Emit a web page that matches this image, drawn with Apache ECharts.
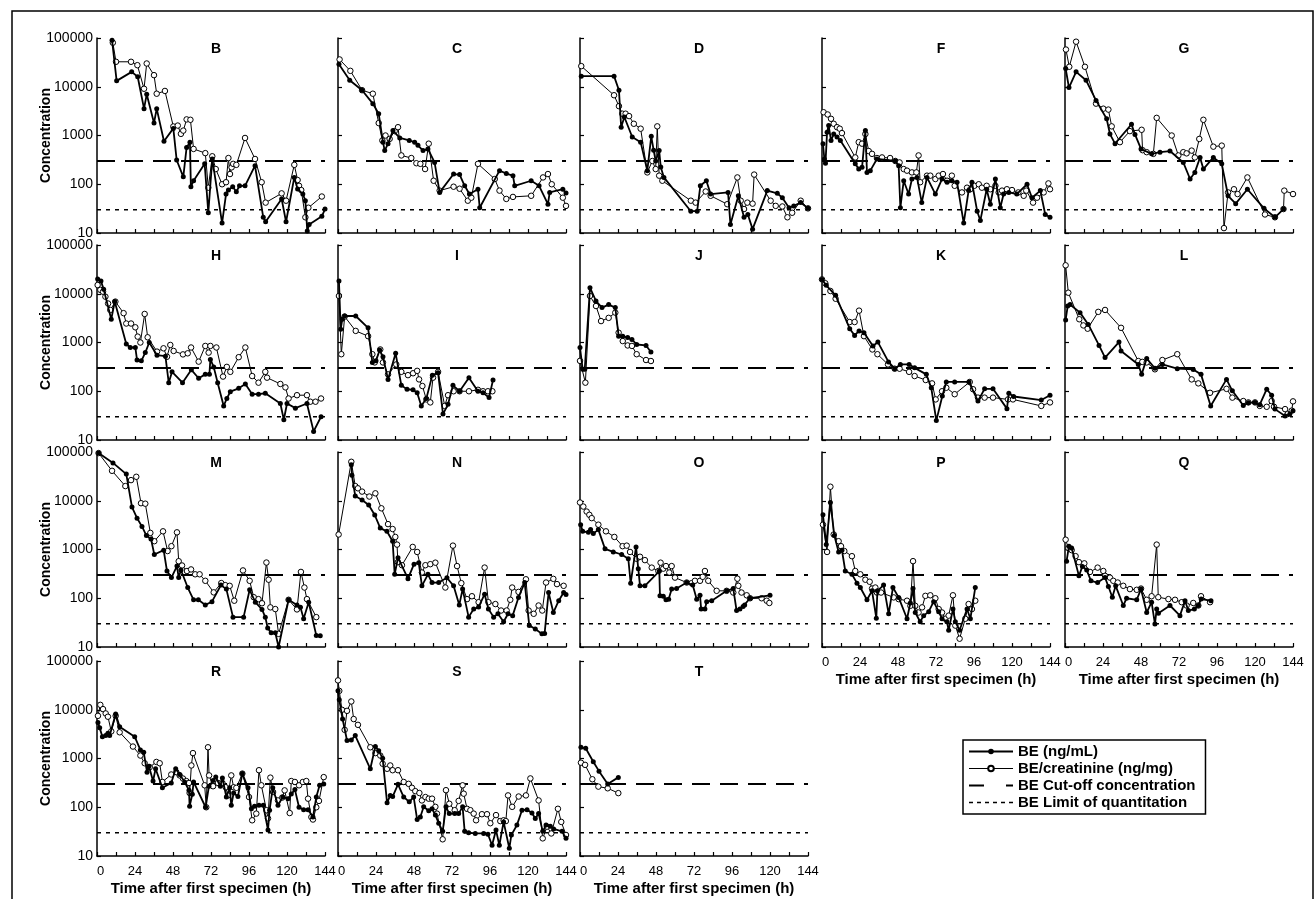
<!DOCTYPE html>
<html><head><meta charset="utf-8">
<script src="https://cdn.jsdelivr.net/npm/echarts@6/dist/echarts.min.js"></script>
<style>html,body{margin:0;padding:0;background:#fff}#c{width:1314px;height:899px}</style>
</head><body><div id="c"></div><script>
// ---------- DATA: [time (h), concentration] ----------
const CUTOFF = 300;
const LOQ = 30;
const X_TICKS = [0, 24, 48, 72, 96, 120, 144];
const Y_TICKS = [10, 100, 1000, 10000, 100000];

const B_BE = [[9.5,90000],[12.4,13200],[21.9,20200],[25.7,16000],[29.7,3550],[31.4,7000],[36,1800],[37.7,3550],[42.3,760],[48.2,1400],[50.3,315],[54.5,142],[56.6,570],[58.7,730],[59.3,89],[61,118],[68,262],[70.3,26],[72.8,330],[79,16],[81.5,63],[83,76],[85.7,89],[88,70],[90,93],[93.5,93],[99.8,240],[105,21],[106.5,17],[116.6,50],[119.4,17],[124.6,138],[126.7,80],[130,63],[131.6,46],[132.8,11],[134,15],[142,22],[144,31]];
const B_CR = [[10,80000],[12,32500],[21.5,32500],[25.5,27700],[29.7,9100],[31.4,30000],[36,17300],[37.7,7200],[42.9,8200],[48.2,1530],[51,1600],[53,1080],[54.5,1260],[56.6,2140],[59,2100],[61,530],[68.4,435],[70.3,85],[72.8,375],[75,205],[79,100],[81.5,110],[83,345],[84,162],[85,222],[86,262],[88,250],[93.5,890],[99.8,330],[104,110],[106.5,42],[116.6,65],[119.4,46],[124.6,250],[126.7,122],[127.6,93],[129,76],[131.6,21],[133.5,33],[142,56]];

const C_BE = [[0.6,29100],[7.4,13600],[15.2,8500],[22,4500],[25.7,2800],[28.4,730],[29.5,490],[31.6,680],[34.7,1260],[39,890],[45,790],[48.4,730],[50.5,630],[53.7,490],[56.8,530],[61,280],[64.2,68],[73,162],[76.8,158],[80,93],[83,63],[88.4,79],[89.5,33],[102,190],[106.3,166],[110.5,150],[111.6,93],[122,118],[127,93],[132.6,39],[133.7,68],[142,79],[144,66]];
const C_CR = [[1,36300],[7.8,21200],[15.2,8500],[22,7200],[25.7,1800],[28,790],[30,1000],[32.6,850],[35.8,1230],[37.9,1480],[40,390],[46.3,345],[49.5,270],[52,262],[55,205],[57.3,680],[60.4,118],[64.2,74],[73,89],[76.8,81],[82,46],[84.2,53],[88.4,262],[99,128],[102,74],[106.3,50],[110.5,55],[122,58],[129.5,138],[132.6,162],[135,100],[142,53],[144,36]];

const D_BE = [[0.8,16500],[21.5,16500],[24.6,8500],[26,1480],[28,2400],[33,930],[38.3,730],[42.5,190],[45,960],[46.5,500],[47.8,300],[50,490],[51,225],[53,138],[70,28],[74,28],[76,93],[79.8,118],[82.5,63],[93.5,68],[95,15],[100,58],[103.6,21],[106,24],[109,12],[118.3,74],[124.6,65],[127.8,53],[132,33],[135,36],[139.4,42],[144,32]];
const D_CR = [[0.8,26500],[21.5,6700],[24.6,4000],[26.7,2800],[28.8,2800],[31,2500],[34,1740],[38.3,1380],[42.5,175],[45.7,300],[47.8,205],[48.8,1540],[50,150],[52,118],[70,46],[73,42],[79.4,71],[82.5,58],[93,39],[99.4,138],[101.5,46],[103.6,31],[105.7,42],[109,40],[110,158],[120.4,46],[123.6,36],[127.8,35],[131,21],[134,26],[139.4,46],[144,32]];

const F_BE = [[0.6,680],[1.5,330],[2.2,270],[3.2,1170],[4.2,1600],[5.7,790],[7.4,1070],[9.5,930],[11.6,790],[21,262],[23.2,205],[25.3,222],[27.4,1260],[28.4,175],[30.5,190],[34.7,330],[46.3,300],[48.4,240],[49.5,33],[51.6,118],[54.7,63],[56.8,128],[60,138],[63,42],[66.3,138],[71.6,63],[75.8,128],[79,110],[82,118],[85.3,110],[89.5,16],[92.6,74],[94.7,110],[98,28],[100,18],[104,79],[106.3,39],[109.5,128],[112.6,33],[114.7,63],[118,68],[123,63],[129.5,100],[132.6,53],[137.9,74],[141,24],[144,21]];
const F_CR = [[1,3000],[3.6,2700],[5.7,2200],[7.4,1740],[9.5,1480],[11.2,1380],[12.6,1120],[21,355],[23.2,730],[25.3,680],[27.4,1070],[29.5,480],[31.6,420],[34.7,345],[37.9,355],[43,345],[46.3,300],[49,280],[51.6,205],[53.7,190],[56.8,175],[59.6,175],[61,390],[62,110],[66.3,150],[68.4,150],[71.6,128],[73.7,150],[76.4,162],[79,118],[82,150],[83.8,93],[88.4,68],[91.6,85],[93.7,79],[96.2,93],[99,100],[101,85],[104,93],[106.3,79],[109.5,93],[111.6,68],[113.7,74],[116.8,79],[120,76],[124,68],[127.4,58],[129,74],[133.3,42],[135.8,53],[140,68],[143,104],[144,79]];

const G_BE = [[0.4,23700],[2.5,9600],[7,20200],[13.3,13600],[19.6,5250],[26.3,2200],[28.4,1070],[31.6,680],[42,1700],[44.2,1050],[48,530],[54.7,420],[60,455],[66.3,480],[74.7,280],[79,128],[82,175],[85.3,355],[87.4,205],[93.7,355],[99,262],[103,58],[107.8,40],[115.2,79],[125.7,32],[132.6,21],[138,31]];
const G_CR = [[0.6,58000],[2.7,25700],[7,84000],[12.6,25700],[19.6,4500],[24.2,3550],[27.4,3400],[29.5,1540],[34.7,730],[41,1230],[48.4,1310],[49,500],[51.6,455],[55.8,420],[57.9,2300],[67.4,1000],[71.6,390],[74.7,455],[76.8,430],[80,490],[82,355],[84.8,850],[87.4,2100],[93.7,590],[99,620],[100.4,12.6],[103,68],[106.7,79],[109,63],[115.2,138],[126.3,24],[132.6,21],[138,31],[138.5,74],[144,63]];

const H_BE = [[0.4,20000],[2.5,18300],[4.2,12300],[9,3000],[11.2,6900],[18.5,930],[21,790],[24.2,790],[25.3,435],[28,420],[30.5,620],[33,1000],[37.9,550],[43.2,525],[45.3,150],[47.4,250],[54,150],[59.6,275],[64.2,185],[68.4,222],[71,222],[71.6,450],[73.7,316],[76.2,150],[80,50],[82,71],[84.2,98],[89.5,115],[93.7,141],[98,87],[102,87],[106.3,91],[115.8,56],[118,26],[120,56],[125.3,45],[132.6,56],[136.8,15],[141.5,30]];
const H_CR = [[0.4,15100],[2.1,12000],[3.8,11000],[5.3,8700],[7,6300],[8.4,4650],[11.6,6900],[16.8,4000],[18.5,2450],[21.5,2450],[24.2,2050],[25.7,1320],[27.4,1000],[30.1,3850],[32,1280],[37.9,650],[42,760],[44.2,510],[46.3,890],[48.4,670],[54.3,570],[57.3,600],[59.4,790],[64.2,405],[68.4,850],[70.5,620],[71.6,850],[75.4,790],[79.6,200],[82,316],[84.2,250],[89.5,500],[93.7,790],[98,205],[102,150],[106.3,250],[107.4,190],[115.8,141],[119,120],[121,71],[126.3,83],[132.6,83],[134.7,61],[138,61],[141.5,71]];

const I_BE = [[0.6,18300],[1.7,1860],[2.7,3000],[4.2,3500],[11.2,3500],[19,2000],[21.7,390],[24,420],[26.3,700],[28.4,510],[31.6,175],[36.4,600],[40,132],[43.6,110],[47.4,107],[50,93],[52.6,50],[55.8,71],[59.6,214],[63.2,240],[66.3,34],[69.5,54],[72.6,132],[76.8,100],[82.7,190],[88.4,100],[91.6,93],[95.4,74],[97.9,170]];
const I_CR = [[0.6,9000],[2.1,575],[4.2,3400],[11.2,1730],[19,1350],[21.7,575],[23.2,390],[26.7,720],[28.4,390],[31.6,222],[36.8,355],[40,250],[44.2,214],[47.4,234],[50,262],[51.2,175],[53.3,128],[55.8,68],[58.3,59],[60,190],[63.2,250],[67.4,50],[69.5,83],[73,100],[76.8,100],[82.7,100],[88.4,107],[91.6,100],[94.7,100],[97.5,100]];

const J_BE = [[0,790],[1.7,282],[3,282],[6.3,13300],[10.1,7100],[13.9,5200],[18.1,6000],[22.3,5200],[24.4,1350],[27,1350],[30.1,1260],[32.8,1150],[35.8,910],[41.7,870],[44.8,640]];
const J_CR = [[0,420],[3.4,150],[6.3,9000],[10.1,5600],[13.3,2750],[18.1,3200],[22.3,4100],[24.4,1590],[27,1070],[30.1,870],[32.8,850],[35.8,575],[41.7,437],[44.8,417]];

const K_BE = [[0,19700],[2.7,14900],[8.6,9300],[17.5,1920],[20.6,1400],[23.4,1730],[26.5,1590],[32.2,850],[35.3,1020],[42,400],[45.9,290],[49.5,355],[55,355],[58.5,302],[65.9,222],[69,118],[72.2,25],[76,80],[78.5,155],[83.8,155],[92.8,155],[98.5,63],[102.7,112],[108,112],[116.8,44],[118,91],[121,78],[138.5,66],[144,83]];
const K_CR = [[0,19700],[2.1,16400],[5.3,11400],[8.6,7900],[17.5,2630],[20.6,2630],[23.4,4500],[26.5,1350],[31.8,720],[35,575],[41.7,355],[45.9,290],[49,290],[55,250],[58.5,205],[65.5,170],[69.5,145],[71.8,68],[75.8,100],[78.5,118],[83.8,87],[93.3,155],[95.4,110],[98.5,74],[102.7,74],[108,74],[117.5,68],[120.6,68],[138.5,50],[144,59]];

const L_BE = [[0.4,2900],[1.7,5600],[3.2,6000],[9.5,4100],[14.7,2350],[21.5,870],[25.3,490],[34.1,1020],[35.4,670],[46.3,355],[48.4,222],[51.6,470],[56.8,295],[61.5,355],[70.9,290],[81,280],[85.9,222],[92,50],[102,175],[105.7,102],[112.6,51],[115.8,58],[120,59],[123,53],[127.4,110],[130.5,83],[132.6,43],[139,31],[142,34],[144,40]];
const L_CR = [[0.4,38300],[2.1,10500],[9,3000],[11.6,2240],[14.3,1920],[21,4250],[25.3,4650],[35.4,2000],[46.3,417],[48.8,400],[51.6,390],[56.8,282],[61.5,437],[70.9,575],[80,175],[84.2,145],[91.6,93],[102,112],[105.7,74],[112.6,63],[115.8,59],[120,59],[123,50],[127.4,48],[130.5,63],[132,48],[139,43],[140.6,34],[143.2,40],[144,62]];

const M_BE = [[1,95000],[10.1,59700],[18.5,35200],[22.1,7400],[25.3,4400],[28.4,2970],[31.2,1930],[34.1,1650],[36.2,790],[42.1,970],[44.2,362],[47,265],[50.5,457],[51.6,265],[53,380],[57.3,166],[61,93],[64,93],[68.4,73],[72.6,85],[78.3,186],[81.7,154],[85.9,41],[92.6,41],[96.4,149],[100,83],[104.2,59],[106.3,41],[107.8,24.5],[110,19.5],[112.6,19.5],[114.7,10],[121,93],[126.3,73],[128.5,65],[130.5,38],[133.7,83],[138.5,17.3],[141,17]];
const M_CR = [[1,95000],[9.5,41100],[17.9,20000],[21.5,26500],[24.8,31000],[27.8,8900],[30.5,8700],[33.7,2190],[36.2,1480],[41.7,2360],[44.6,930],[47,1170],[50.5,2250],[51.6,575],[53.7,470],[56.8,362],[59.4,390],[62,310],[64.8,310],[68.4,228],[73.7,132],[78.5,205],[81,186],[83.8,180],[86.7,89],[92.2,372],[96.4,228],[99,105],[102,96],[104.2,79],[107,540],[108.4,240],[109.5,65],[112.6,60],[114.7,18.6],[121,93],[126.3,59],[128.8,347],[131,166],[132.6,96],[138.5,41]];

const N_BE = [[8.4,55000],[8.8,33500],[10.9,12500],[15.2,10400],[19.4,8200],[23.2,5100],[26.7,2750],[30.9,2360],[34.5,1480],[35.8,310],[37.9,680],[44.2,252],[48,500],[51,537],[53,180],[56.8,310],[59.4,210],[63.6,210],[68.8,264],[73,180],[76.6,73],[78.7,154],[82.5,41],[85.7,60],[88.8,66],[92.6,121],[95,60],[98.3,41],[101,48],[104.6,33],[107.4,48],[110.3,44],[114,104],[117.9,210],[120.8,27.5],[124.6,23.5],[128.8,18.6],[130.5,19],[133,131],[136,51],[139.4,89],[142.5,131],[144,120]];
const N_CR = [[0.4,2030],[8.4,63000],[10.9,20000],[12.6,18000],[15.2,15400],[19.8,12200],[23.6,14200],[27.4,7000],[31.6,3320],[34.5,2630],[36.2,1810],[37.3,1260],[37.8,550],[40.4,476],[47.2,1130],[50,890],[53,337],[55.2,476],[58.3,500],[61.5,537],[67.8,166],[72.6,1200],[75.2,457],[77.9,204],[81.5,96],[84.6,110],[88.8,83],[92.6,426],[95,83],[99.4,76],[103,56],[106.5,56],[108.8,93],[110,166],[114,135],[118.7,245],[120.4,56],[123.6,48],[126.7,71],[129,56],[131.4,210],[136,250],[138.3,195],[142.5,180]];

const O_BE = [[0.4,3230],[1.7,2360],[5.3,2250],[6.7,2560],[8.4,2120],[11.6,2560],[15.8,1030],[21,890],[26.3,790],[30.5,645],[32,204],[35.4,1130],[36.8,405],[37.9,180],[41,180],[50.1,362],[50.5,112],[52.6,110],[54.3,93],[56,95],[57.9,154],[61,158],[67.4,210],[71.2,186],[73.7,95],[75.8,115],[76.5,60],[78.9,60],[80,85],[83.2,89],[92.6,142],[96.8,158],[98.9,56],[101,60],[103,68],[104,73],[107.4,100],[120,115]];
const O_CR = [[0,9200],[2.1,7600],[4.2,6000],[5.9,5150],[7.4,4400],[11.6,3230],[16.4,2360],[21.7,1810],[26.9,1170],[29.5,1200],[31.6,890],[35.8,645],[37.9,710],[41,605],[45.3,425],[49.5,362],[50.9,537],[52.6,405],[54.3,457],[56.4,337],[57.9,457],[60,265],[67.4,210],[70.5,204],[72.6,228],[75.8,228],[77.5,275],[78.9,362],[81,228],[86.3,142],[92.6,142],[96.8,131],[99.4,252],[100,180],[102,131],[105.3,115],[107.4,100],[114.7,100],[117.9,89],[119.6,80]];

const P_BE = [[0.6,5150],[2.7,1260],[5.3,9200],[7.8,1930],[10.5,890],[12.6,970],[14.7,362],[18.9,310],[22.1,204],[24.2,166],[28.4,93],[31.6,142],[34.3,39],[35,142],[38.9,186],[42.1,48],[44.8,166],[48.4,104],[53.7,38],[55.8,80],[57.5,158],[58.9,51],[62,33],[64.2,44],[67.4,53],[70.5,85],[73.7,53],[75.8,38],[78.9,33],[80,22],[82.7,60],[84.2,33],[86.9,22],[91.6,60],[93.7,38],[96.8,166]];
const P_CR = [[0.6,3230],[3.2,890],[5.3,19400],[7.4,2030],[10.5,1480],[12,1170],[14.1,930],[18.9,730],[21,362],[24.2,310],[27.4,240],[30.1,218],[31.6,158],[33.7,166],[34.7,131],[37.3,131],[45.3,104],[48.4,96],[53.7,89],[55.8,70],[57.5,577],[58.9,70],[61,51],[63.2,65],[65.3,112],[68.4,115],[71.6,100],[73.7,60],[75.8,51],[77.9,38],[80,44],[82.7,115],[84.2,27.5],[86.9,14.8],[90.5,38],[92.6,76],[94.7,60],[96.8,89]];

const Q_BE = [[1,577],[2.5,1170],[4.2,1070],[8.8,288],[11,450],[13.7,380],[16.4,228],[20.6,210],[25.3,265],[27.4,174],[29.9,105],[32,180],[36.8,71],[38.9,100],[45.3,93],[48,154],[51.6,51],[54.7,83],[56.8,29.5],[57.9,60],[59,49],[66.3,71],[72.6,44],[75.8,89],[77.9,56],[81.7,60],[84.2,71],[86,96],[92.2,89]];
const Q_CR = [[0.4,1590],[2.1,1070],[4.2,970],[6.7,730],[8.8,550],[12.2,520],[15.8,347],[20.6,425],[24.2,362],[25.3,288],[28.4,265],[30.5,228],[33.3,210],[36.8,180],[41,154],[45.3,149],[48,158],[51.6,93],[54.7,110],[57.9,1260],[58.9,105],[65.3,96],[69.5,93],[73.7,83],[76.8,71],[81,80],[84.2,71],[85.9,110],[91.6,83]];

const R_BE = [[0.6,5500],[1.7,4250],[3.4,2800],[5.5,2950],[6.9,3300],[8,2950],[11.8,8200],[14.3,4500],[23.8,2800],[27.4,1500],[29.5,1350],[31.6,525],[32.8,690],[35.4,345],[37,615],[41.3,251],[46.9,315],[49.7,615],[52.2,470],[55.4,330],[58.1,222],[58.5,105],[60.2,185],[61,330],[68.6,100],[70.7,270],[73.3,355],[75,415],[77.9,270],[79.2,400],[81.7,162],[83.8,250],[84.8,110],[86.3,196],[89,166],[91.8,490],[95.4,250],[97.5,93],[99.5,105],[102.3,110],[105,110],[108,34],[109,87],[111,250],[114.3,110],[117.3,162],[120.6,150],[122.7,186],[125,230],[127.6,100],[130.5,89],[133.3,89],[136.4,63],[138.5,162],[140.6,282],[143.2,300]];
const R_CR = [[0.6,7500],[2.1,12600],[3.8,10300],[5.5,8400],[6.9,7200],[9,3600],[11.8,7500],[14.3,3450],[22.7,1760],[27.4,1150],[30.1,800],[33.3,665],[37.5,850],[39.6,800],[41.3,330],[46.9,470],[50.1,525],[52.2,450],[54.3,388],[56.4,345],[58.1,315],[58.5,196],[59.6,720],[60.6,1290],[68,282],[69,100],[70.1,1700],[70.8,450],[73.3,270],[76.4,315],[79.2,315],[81.3,257],[82.7,175],[84.8,450],[86.3,257],[88,250],[91.8,490],[96,162],[98,54],[100.6,74],[102.3,575],[103.8,282],[107,87],[108,59],[109.5,405],[111.2,205],[114.3,138],[117,158],[118.5,222],[121.7,76],[122.7,345],[125,330],[127.6,282],[130,330],[132.2,345],[133.3,150],[135.4,63],[136.4,56],[138.5,100],[140.2,135],[143.2,415]];

const S_BE = [[0,24400],[0.8,16000],[2.9,6450],[5.7,2340],[8.4,2400],[10.9,2950],[20.4,615],[23.6,1760],[25.7,1450],[28.2,1010],[31,123],[33,175],[34.5,166],[37.9,295],[41.5,162],[45,129],[47.8,162],[50,56],[52,63],[54.1,102],[57.3,85],[59.4,93],[61.5,69],[63.6,47],[66.1,32],[68.2,102],[70.3,74],[73.7,74],[76.2,74],[78.7,102],[80,32],[82.5,30],[86.7,29],[92,29],[94.7,28],[97.3,16.6],[99.8,34],[101.9,16.6],[104.6,50],[108.2,14.4],[109.5,27],[113,43],[116.2,87],[119.4,89],[122.5,76],[124.6,59],[126.7,74],[129.3,32],[131.4,43],[134.1,41],[136.2,36],[141.5,32],[144,23]];
const S_CR = [[0,40000],[0.8,24400],[2.5,10000],[4.2,3870],[5.7,9500],[8.4,14800],[9.9,6450],[12.6,4900],[20.4,1700],[23.6,1290],[26.7,1150],[28.2,780],[31,615],[33,720],[34.5,575],[37.9,575],[41.5,330],[44.6,302],[46.7,251],[48.8,214],[51.4,196],[53,138],[55.2,162],[57.3,150],[59.4,150],[61.5,102],[62.5,74],[66.1,22],[68.2,224],[70.3,118],[73.7,87],[76.2,135],[78.7,282],[79.4,190],[81.5,93],[83.6,87],[85.7,74],[87.2,54],[90.9,72],[94.1,72],[96.2,47],[99.8,69],[102.5,52],[104.6,54],[106,52],[107.4,175],[110,102],[114.1,166],[118.7,175],[121.5,390],[126.7,138],[129.3,23],[132,40],[134.7,29],[138.9,93],[141,50],[144,27]];

const T_BE = [[0.6,1700],[3.6,1620],[8.4,860],[12,550],[17.5,300],[24.2,410]];
const T_CR = [[0.6,820],[3.2,740],[7.8,375],[11.6,265],[17.5,245],[24.2,195]];

const PANEL_NAMES = ['B','C','D','F','G','H','I','J','K','L','M','N','O','P','Q','R','S','T'];
const BE_SERIES = [B_BE,C_BE,D_BE,F_BE,G_BE,H_BE,I_BE,J_BE,K_BE,L_BE,M_BE,N_BE,O_BE,P_BE,Q_BE,R_BE,S_BE,T_BE];
const CR_SERIES = [B_CR,C_CR,D_CR,F_CR,G_CR,H_CR,I_CR,J_CR,K_CR,L_CR,M_CR,N_CR,O_CR,P_CR,Q_CR,R_CR,S_CR,T_CR];

const NAME_BE = 'BE (ng/mL)';
const NAME_CR = 'BE/creatinine (ng/mg)';
const NAME_CUT = 'BE Cut-off concentration';
const NAME_LOQ = 'BE Limit of quantitation';

// ---------- LAYOUT ----------
const COL_LEFT = [97, 338, 580, 822, 1065];
const ROW_TOP = [38, 245, 452, 661];
const PW = 228, PH = 195;
const FONT = "'Liberation Sans', Arial, Helvetica, sans-serif";

const grids = [], xAxes = [], yAxes = [], series = [], titles = [];
PANEL_NAMES.forEach((p, i) => {
  const col = i % 5, row = Math.floor(i / 5);
  const bottom = row === 3 || (row === 2 && col >= 3);
  const first = col === 0;
  grids.push({left: COL_LEFT[col], top: ROW_TOP[row], width: PW, height: PH, containLabel: false});
  titles.push({text: p, left: COL_LEFT[col] + PW / 2, top: ROW_TOP[row] - 1, textAlign: 'center',
    textStyle: {fontFamily: FONT, fontWeight: 'bold', fontSize: 14, color: '#000'}});
  xAxes.push({
    type: 'value', gridIndex: i, min: X_TICKS[0], max: X_TICKS[X_TICKS.length - 1], interval: 24,
    axisLine: {show: true, onZero: false, lineStyle: {color: '#000', width: 1.5}},
    axisTick: {show: true, inside: true, length: 4, lineStyle: {color: '#000', width: 1.2}},
    minorTick: {show: true, splitNumber: 2, length: 4, lineStyle: {color: '#000', width: 1.2}},
    splitLine: {show: false},
    axisLabel: {show: bottom, color: '#000', fontFamily: FONT, fontSize: 13, margin: 9,
      alignMinLabel: 'left',
      formatter: v => X_TICKS.includes(v) ? String(v) : ''},
    name: bottom ? 'Time after first specimen (h)' : '',
    nameLocation: 'middle', nameGap: 25, nameMoveOverlap: false,
    nameTextStyle: {color: '#000', fontFamily: FONT, fontWeight: 'bold', fontSize: 15}
  });
  yAxes.push({
    type: 'log', logBase: 10, gridIndex: i, min: Y_TICKS[0], max: Y_TICKS[Y_TICKS.length - 1],
    axisLine: {show: true, lineStyle: {color: '#000', width: 1.5}},
    axisTick: {show: true, inside: true, length: 4, lineStyle: {color: '#000', width: 1.2}},
    splitLine: {show: false},
    axisLabel: {show: first, color: '#000', fontFamily: FONT, fontSize: 14, margin: 4,
      formatter: v => String(Math.round(v))},
    name: first ? 'Concentration' : '',
    nameLocation: 'middle', nameGap: 44, nameMoveOverlap: false,
    nameTextStyle: {color: '#000', fontFamily: FONT, fontWeight: 'bold', fontSize: 14}
  });
  series.push({
    name: NAME_CUT, type: 'line', xAxisIndex: i, yAxisIndex: i, symbol: 'none', silent: true, z: 1,
    data: [[X_TICKS[0], CUTOFF], [X_TICKS[X_TICKS.length - 1], CUTOFF]],
    lineStyle: {color: '#000', width: 2, type: [18, 10]}, itemStyle: {color: '#000'}
  });
  series.push({
    name: NAME_LOQ, type: 'line', xAxisIndex: i, yAxisIndex: i, symbol: 'none', silent: true, z: 1,
    data: [[X_TICKS[0], LOQ], [X_TICKS[X_TICKS.length - 1], LOQ]],
    lineStyle: {color: '#000', width: 1.5, type: [4, 5]}, itemStyle: {color: '#000'}
  });
  series.push({
    name: NAME_CR, type: 'line', xAxisIndex: i, yAxisIndex: i, data: CR_SERIES[i], z: 3,
    symbol: 'circle', symbolSize: 5.5, showAllSymbol: true,
    lineStyle: {color: '#000', width: 1},
    itemStyle: {color: '#fff', borderColor: '#000', borderWidth: 1}
  });
  series.push({
    name: NAME_BE, type: 'line', xAxisIndex: i, yAxisIndex: i, data: BE_SERIES[i], z: 4,
    symbol: 'circle', symbolSize: 5, showAllSymbol: true,
    lineStyle: {color: '#000', width: 1.8},
    itemStyle: {color: '#000', borderColor: '#000', borderWidth: 0}
  });
});

const chart = echarts.init(document.getElementById('c'), null, {renderer: 'canvas'});
chart.setOption({
  animation: false,
  backgroundColor: '#fff',
  title: titles,
  grid: grids,
  xAxis: xAxes,
  yAxis: yAxes,
  series: series,
  legend: {
    left: 963, top: 740, orient: 'vertical', itemWidth: 44, itemHeight: 7, itemGap: 2,
    padding: [4, 10, 4, 5], borderColor: '#000', borderWidth: 1.5, backgroundColor: '#fff',
    selectedMode: false,
    textStyle: {color: '#000', fontFamily: FONT, fontWeight: 'bold', fontSize: 15},
    data: [
      {name: NAME_BE, lineStyle: {width: 1.8}},
      {name: NAME_CR, lineStyle: {width: 1}},
      {name: NAME_CUT, itemStyle: {opacity: 0}, lineStyle: {type: [15, 22], width: 2}},
      {name: NAME_LOQ, itemStyle: {opacity: 0}, lineStyle: {type: [4, 4], width: 1.5}}
    ]
  },
  graphic: [{
    type: 'rect', silent: true, z: 100,
    shape: {x: 12, y: 11, width: 1301, height: 900},
    style: {fill: 'none', stroke: '#000', lineWidth: 1.5}
  }]
});
</script></body></html>
